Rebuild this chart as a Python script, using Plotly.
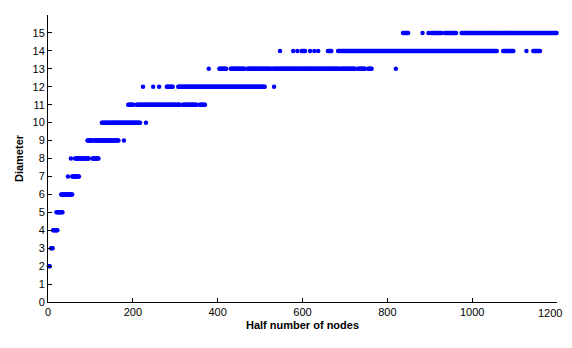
import numpy as np
import plotly.graph_objects as go

# strips of points: (first x, last x) for each diameter
diameters = list(range(2, 16))
strips = [
    [(2, 4)],
    [(7, 11)],
    [(12, 23)],
    [(20, 35)],
    [(31, 57)],
    [(47, 47), (57, 74)],
    [(54, 54), (64, 97), (105, 119)],
    [(93, 105), (110, 166), (179, 179)],
    [(127, 217), (231, 231)],
    [(189, 201), (209, 311), (318, 350), (358, 370)],
    [(224, 224), (248, 248), (262, 262), (280, 295), (307, 512), (533, 533)],
    [(379, 379), (404, 420), (431, 464), (470, 527), (530, 688), (692, 724),
     (731, 747), (755, 763), (820, 820)],
    [(547, 547), (578, 578), (588, 588), (598, 606), (618, 618), (628, 628),
     (637, 637), (660, 669), (684, 1058), (1073, 1097), (1128, 1128),
     (1144, 1160)],
    [(837, 849), (883, 883), (897, 897), (904, 928), (936, 963), (975, 1200)],
]
x_ticks = [0, 200, 400, 600, 800, 1000, 1200]
y_ticks = list(range(0, 16))

xs, ys = [], []
for d, segs in zip(diameters, strips):
    for a, b in segs:
        pts = np.arange(a, b + 1, 2) if b > a else np.array([a])
        xs += list(pts)
        ys += [d] * len(pts)

fig = go.Figure(go.Scatter(
    x=xs, y=ys, mode='markers',
    marker=dict(color='#0000FF', size=4.5, line=dict(width=0)),
    cliponaxis=False,
))

# page body has an 8px margin, keep the figure inside the body
axis_font = dict(family='Liberation Sans, Arial, sans-serif', size=11, color='black')
fig.update_layout(
    width=556, height=326,
    margin=dict(l=40, r=7, t=7, b=32, autoexpand=False),
    paper_bgcolor='white', plot_bgcolor='white',
    showlegend=False,
    font=axis_font,
)
# last x label would be clipped at the right edge, so it goes in as an annotation
x_text = [str(v) for v in x_ticks[:-1]] + ['']
fig.add_annotation(
    x=x_ticks[-1], y=0, xref='x', yref='paper', text=str(x_ticks[-1]),
    showarrow=False, xanchor='right', yanchor='top', xshift=7, yshift=-3,
    font=axis_font,
)
fig.update_xaxes(
    range=[0, 1200], tickvals=x_ticks, ticktext=x_text, ticks='inside', ticklen=4,
    tickcolor='black', showline=True, linecolor='black', linewidth=1,
    showgrid=False, zeroline=False, mirror=False, tickfont=axis_font,
    automargin=False,
    title=dict(text='<b>Half number of nodes</b>', font=axis_font, standoff=4),
)
fig.update_yaxes(
    range=[0, 16], tickvals=y_ticks, ticks='inside', ticklen=4,
    tickcolor='black', showline=True, linecolor='black', linewidth=1,
    showgrid=False, zeroline=False, mirror=False, tickfont=axis_font,
    automargin=False,
    title=dict(text='<b>Diameter</b>', font=axis_font, standoff=6),
)
fig.write_html("out.html")
